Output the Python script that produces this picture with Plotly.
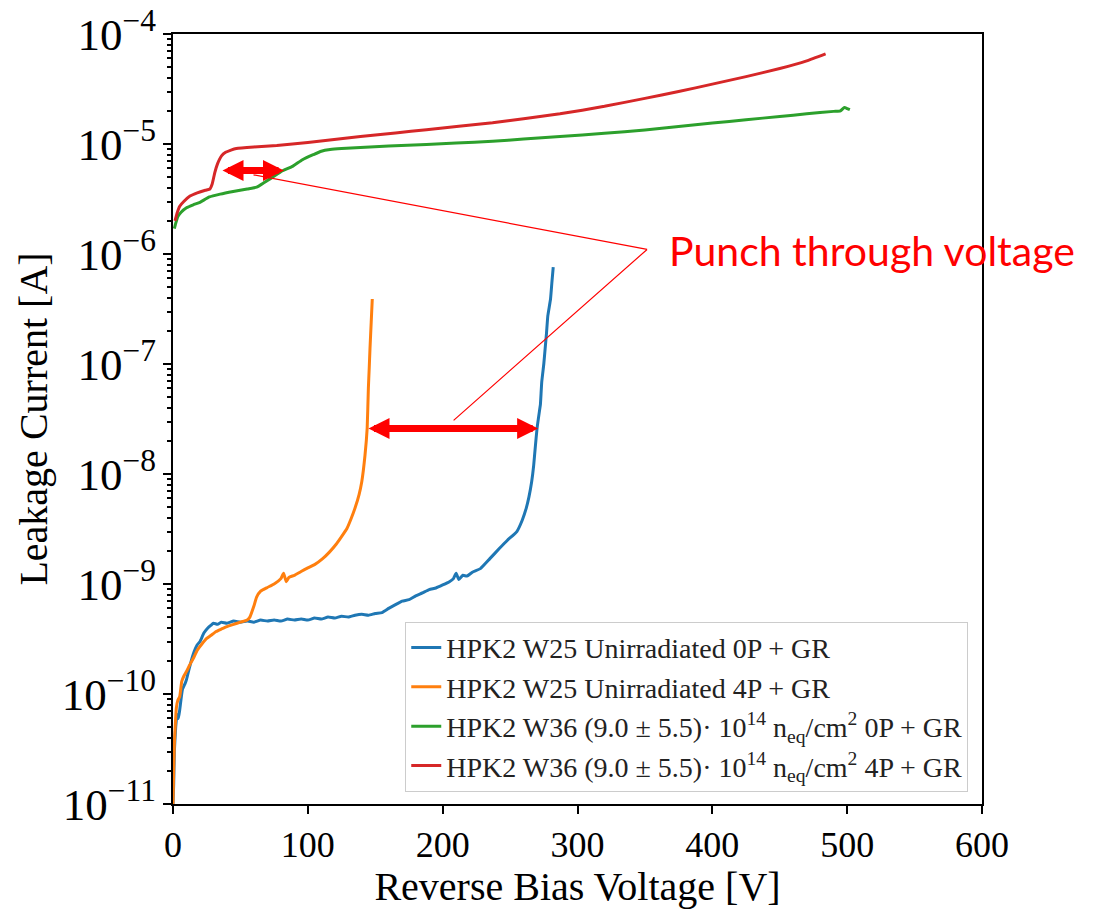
import plotly.graph_objects as go
import math

# ---------------- data ----------------
v_w25_0p = [0, 0.5, 1, 2, 3, 4, 5, 7, 9, 10, 12, 15, 18, 20, 23, 26, 28, 30, 33, 36, 40, 45, 50, 55, 60, 65, 70,
            75, 80, 85, 90, 95, 100, 105, 110, 115, 120, 125, 130, 135, 140, 145, 150, 155, 160, 165,
            170, 175, 180, 185, 190, 195, 200, 205, 208, 210, 212, 215, 218, 222, 228, 235, 242, 248,
            255, 259, 262, 264, 266, 267.5, 268.6, 270, 272, 272.5, 273.5, 275, 276, 277, 278, 280, 281, 282]
i_w25_0p = [1e-11, 1.5e-11, 3e-11, 5e-11, 6.5e-11, 6e-11, 7.2e-11, 1.1e-10, 1.25e-10, 1.35e-10, 1.7e-10, 2.3e-10,
            2.8e-10, 3.0e-10, 3.6e-10, 4.0e-10, 4.2e-10, 4.4e-10, 4.3e-10, 4.5e-10, 4.4e-10, 4.6e-10, 4.5e-10,
            4.6e-10, 4.5e-10, 4.7e-10, 4.6e-10, 4.7e-10, 4.6e-10, 4.8e-10, 4.7e-10, 4.8e-10, 4.7e-10, 4.9e-10,
            4.8e-10, 5.0e-10, 4.9e-10, 5.1e-10, 5.0e-10, 5.2e-10, 5.3e-10, 5.2e-10, 5.4e-10, 5.5e-10, 6.0e-10,
            6.5e-10, 7.0e-10, 7.2e-10, 7.8e-10, 8.3e-10, 8.9e-10, 9.2e-10, 9.8e-10, 1.05e-9, 1.12e-9, 1.25e-9,
            1.1e-9, 1.2e-9, 1.18e-9, 1.28e-9, 1.38e-9, 1.7e-9, 2.1e-9, 2.5e-9, 3.0e-9, 3.8e-9, 4.9e-9, 6.2e-9,
            8.5e-9, 1.2e-8, 1.7e-8, 2.6e-8, 3.9e-8, 4.3e-8, 6.9e-8, 1.0e-7, 1.38e-7, 1.9e-7, 2.75e-7, 3.9e-7,
            5.5e-7, 7.6e-7]

v_w25_4p = [0, 0.5, 1, 1.5, 2.5, 3.5, 5, 6.5, 8, 10, 12, 15, 18, 21, 25, 28, 32, 36, 40, 45, 50, 55, 57, 60, 62,
            65, 70, 75, 80, 82, 84, 86, 90, 95, 100, 105, 111, 116, 121, 125, 129, 132, 135, 138, 140, 142.4,
            144, 144.9, 145.5, 146.1, 147, 147.8]
i_w25_4p = [1e-11, 2e-11, 3.5e-11, 4.7e-11, 7.5e-11, 8.7e-11, 9.5e-11, 1.3e-10, 1.45e-10, 1.6e-10, 1.8e-10,
            2.1e-10, 2.5e-10, 2.8e-10, 3.2e-10, 3.4e-10, 3.7e-10, 3.9e-10, 4.1e-10, 4.3e-10, 4.5e-10, 4.7e-10,
            5.0e-10, 6.3e-10, 7.6e-10, 8.6e-10, 9.3e-10, 1.0e-9, 1.12e-9, 1.25e-9, 1.05e-9, 1.15e-9, 1.2e-9,
            1.3e-9, 1.4e-9, 1.5e-9, 1.7e-9, 1.95e-9, 2.3e-9, 2.7e-9, 3.2e-9, 3.9e-9, 4.9e-9, 6.5e-9, 8.5e-9,
            1.48e-8, 2.6e-8, 6.0e-8, 9.0e-8, 1.38e-7, 2.4e-7, 3.9e-7]

v_w36_0p = [1, 2, 3.7, 6, 10, 15, 20, 27, 35, 44.6, 55, 62, 68, 74, 80, 89, 96, 104, 110, 116.5, 125, 139, 160,
            188, 210, 237, 260, 287, 320, 350, 375, 400, 425, 450, 470, 490, 495, 498, 500, 502]
i_w36_0p = [1.7e-6, 1.9e-6, 2.2e-6, 2.4e-6, 2.63e-6, 2.8e-6, 2.95e-6, 3.3e-6, 3.5e-6, 3.7e-6, 3.9e-6, 4.05e-6,
            4.5e-6, 5.0e-6, 5.6e-6, 6.3e-6, 7.2e-6, 8.0e-6, 8.6e-6, 8.9e-6, 9.1e-6, 9.3e-6, 9.6e-6, 9.9e-6,
            1.02e-5, 1.06e-5, 1.11e-5, 1.17e-5, 1.25e-5, 1.34e-5, 1.44e-5, 1.55e-5, 1.66e-5, 1.78e-5, 1.88e-5,
            1.98e-5, 2.0e-5, 2.15e-5, 2.1e-5, 2.05e-5]

v_w36_4p = [1.5, 3, 5, 8, 12.6, 18, 24, 27.4, 29, 31, 33, 36, 39, 43, 47, 60, 77, 100, 139, 165, 188, 212, 237,
            260, 287, 320, 350, 375, 400, 425, 450, 470, 484]
i_w36_4p = [2.0e-6, 2.35e-6, 2.72e-6, 3.0e-6, 3.36e-6, 3.6e-6, 3.8e-6, 3.9e-6, 4.3e-6, 5.5e-6, 6.6e-6, 7.8e-6,
            8.4e-6, 8.8e-6, 9.1e-6, 9.4e-6, 9.7e-6, 1.03e-5, 1.17e-5, 1.26e-5, 1.35e-5, 1.45e-5, 1.56e-5,
            1.7e-5, 1.88e-5, 2.2e-5, 2.6e-5, 3.0e-5, 3.5e-5, 4.1e-5, 4.85e-5, 5.7e-5, 6.6e-5]

series_names = [
    "HPK2 W25 Unirradiated 0P + GR",
    "HPK2 W25 Unirradiated 4P + GR",
    "HPK2 W36 (9.0 ± 5.5)· 10<sup>14</sup> n<sub>eq</sub>/cm<sup>2</sup> 0P + GR",
    "HPK2 W36 (9.0 ± 5.5)· 10<sup>14</sup> n<sub>eq</sub>/cm<sup>2</sup> 4P + GR",
]
series_colors = ["#1f77b4", "#ff7f0e", "#2ca02c", "#d62728"]

x_ticks = [0, 100, 200, 300, 400, 500, 600]
y_log_range = [-11, -4]   # decades shown, labelled 10^-11 ... 10^-4
y_minor_vals = [k * 10.0 ** e for e in range(y_log_range[0], y_log_range[1]) for k in range(2, 10)]

# punch-through arrows (voltage span, current level)
pt_irr = (35.6, 82.3, 5.74e-6)
pt_unirr = (143.9, 270.8, 2.59e-8)
label_pos = (351.6, 1.10e-6)       # vertex of the leader lines
label_text_pos = (366.5, 1.08e-6)  # text anchor
leader_targets = [(58.6, 5.28e-6), (207.0, 2.99e-8)]

# ---------------- figure ----------------
serif = "Liberation Serif"
fig = go.Figure()
for v, i, name, col in zip([v_w25_0p, v_w25_4p, v_w36_0p, v_w36_4p],
                           [i_w25_0p, i_w25_4p, i_w36_0p, i_w36_4p],
                           series_names, series_colors):
    fig.add_trace(go.Scatter(x=v, y=i, mode="lines", name=name,
                             line=dict(color=col, width=3, shape="spline", smoothing=0.4)))

# invisible copy of one series that carries the overlay axis used for the minor ticks
fig.add_trace(go.Scatter(x=v_w36_0p, y=i_w36_0p, yaxis="y2", mode="lines", showlegend=False,
                         hoverinfo="skip", line=dict(width=0, color="rgba(0,0,0,0)")))

for x0, x1, yv in [pt_irr, pt_unirr]:
    fig.add_annotation(x=x1, y=math.log10(yv), ax=x0, ay=math.log10(yv),
                       xref="x", yref="y", axref="x", ayref="y", text="",
                       showarrow=True, arrowside="end+start", arrowhead=2, startarrowhead=2,
                       arrowwidth=7, arrowsize=0.6, startarrowsize=0.6,
                       arrowcolor="#ff0000", standoff=0, startstandoff=0)

for tx, ty in leader_targets:
    fig.add_annotation(x=label_pos[0], y=math.log10(label_pos[1]), ax=tx, ay=math.log10(ty),
                       xref="x", yref="y", axref="x", ayref="y", text="",
                       showarrow=True, arrowhead=0, arrowwidth=1.2, arrowcolor="#ff0000",
                       standoff=0, startstandoff=0)

fig.add_annotation(x=label_text_pos[0], y=math.log10(label_text_pos[1]), xref="x", yref="y",
                   text="Punch through voltage", showarrow=False, xanchor="left", yanchor="middle",
                   font=dict(family="Lato", size=41, color="#ff0000"))

axis_common = dict(showline=True, linecolor="black", linewidth=1.8, mirror=True,
                   showgrid=False, zeroline=False, ticks="outside", ticklen=8, tickwidth=2,
                   tickcolor="black", tickfont=dict(family=serif, size=36, color="black"))

fig.update_xaxes(range=[0, 600], tickvals=x_ticks, automargin="bottom",
                 title=dict(text="Reverse Bias Voltage [V]", font=dict(family=serif, size=40, color="black"),
                            standoff=4),
                 **axis_common)
fig.update_yaxes(type="log", range=y_log_range, tickmode="linear", tick0=0, dtick=1,
                 exponentformat="power", showexponent="all", automargin="left",
                 title=dict(text="Leakage Current [A]", font=dict(family=serif, size=40, color="black"),
                            standoff=2),
                 **axis_common)

fig.update_layout(
    width=1117, height=909,
    margin=dict(l=173, r=135, t=34, b=102),
    paper_bgcolor="white", plot_bgcolor="white",
    showlegend=True,
    yaxis2=dict(type="log", range=y_log_range, overlaying="y", side="left", anchor="x",
                tickmode="array", tickvals=y_minor_vals, ticks="outside", ticklen=5, tickwidth=1.8,
                tickcolor="black", showticklabels=False, showline=False, showgrid=False,
                zeroline=False, automargin=False),
    legend=dict(x=0.983, y=0.016, xanchor="right", yanchor="bottom",
                bgcolor="rgba(255,255,255,0.85)", bordercolor="#cccccc", borderwidth=1,
                font=dict(family=serif, size=28, color="#222222")),
)

fig.write_html("out.html")
